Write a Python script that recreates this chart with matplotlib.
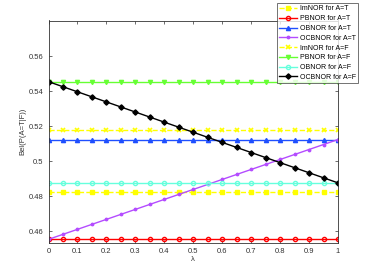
import numpy as np
import matplotlib
matplotlib.use("Agg")
import matplotlib.pyplot as plt

plt.rcParams['font.family'] = ['Liberation Sans', 'DejaVu Sans']

lam = np.round(np.arange(0, 1.0001, 0.05), 2)
n = len(lam)

imnor_t = [0.4822] * n
pbnor_t = [0.4553] * n
obnor_t = [0.5124] * n
ocbnor_t_start, ocbnor_t_end = 0.4553, 0.5124
imnor_f = [0.5181] * n
pbnor_f = [0.5455] * n
obnor_f = [0.4878] * n
ocbnor_f_start, ocbnor_f_end = 0.5455, 0.4876

# OCBNOR curves read as straight lines across lambda
ocbnor_t = [ocbnor_t_start + (ocbnor_t_end - ocbnor_t_start) * l for l in lam]
ocbnor_f = [ocbnor_f_start + (ocbnor_f_end - ocbnor_f_start) * l for l in lam]

labels = ['ImNOR for A=T', 'PBNOR for A=T', 'OBNOR for A=T', 'OCBNOR for A=T',
          'ImNOR for A=F', 'PBNOR for A=F', 'OBNOR for A=F', 'OCBNOR for A=F']

fig = plt.figure(figsize=(3.74, 2.8), dpi=100)
ax = fig.add_axes([48.5/374, 1 - 243/280, (338 - 48.5)/374, (243 - 20.5)/280])

lw = 1.0
ms = 3.0
ax.plot(lam, imnor_t, color='#ffff00', ls='--', marker='s', ms=ms, lw=lw, label=labels[0])
ax.plot(lam, pbnor_t, color='#ff0000', ls='-', marker='o', ms=ms, lw=lw, mfc='none', mew=1.0, label=labels[1])
ax.plot(lam, obnor_t, color='#1f4fff', ls='-', marker='^', ms=ms, lw=lw, label=labels[2])
ax.plot(lam, ocbnor_t, color='#b44cff', ls='-', marker='.', ms=ms + 0.5, lw=lw, label=labels[3])
ax.plot(lam, imnor_f, color='#ffff00', ls='--', marker='x', ms=ms, lw=lw, mew=1.2, label=labels[4])
ax.plot(lam, pbnor_f, color='#66ff33', ls='-', marker='v', ms=ms, lw=lw, label=labels[5])
ax.plot(lam, obnor_f, color='#66ffdd', ls='-', marker='o', ms=ms, lw=lw, mfc='none', mew=1.0, label=labels[6])
ax.plot(lam, ocbnor_f, color='#000000', ls='-', marker='D', ms=ms - 0.3, lw=lw, mew=1.0, label=labels[7])

ax.set_xlim(0, 1)
ax.set_ylim(0.4532, 0.5805)
ax.set_xticks(np.round(np.arange(0, 1.01, 0.1), 1))
ax.set_xticklabels(['0', '0.1', '0.2', '0.3', '0.4', '0.5', '0.6', '0.7', '0.8', '0.9', '1'])
ax.set_yticks([0.46, 0.48, 0.50, 0.52, 0.54, 0.56])
ax.set_yticklabels(['0.46', '0.48', '0.5', '0.52', '0.54', '0.56'])
ax.tick_params(direction='in', top=True, right=True, labelsize=5.5, length=2.5, width=0.5, colors='#333333')
for s in ax.spines.values():
    s.set_linewidth(0.6)
    s.set_color('#333333')
ax.set_xlabel('λ', fontsize=5.5, labelpad=1, color='#333333')
ax.set_ylabel('Bel(P(A=T|F))', fontsize=5.5, labelpad=2, color='#333333')

leg = ax.legend(loc='upper left', bbox_to_anchor=(277/374, 1 - 3/280), bbox_transform=fig.transFigure,
                fontsize=5, frameon=True, fancybox=False, edgecolor='#333333', borderpad=0.35,
                labelspacing=0.4, handlelength=2.6, handletextpad=0.3, borderaxespad=0)
leg.get_frame().set_linewidth(0.6)

fig.savefig('out.png', dpi=100)
